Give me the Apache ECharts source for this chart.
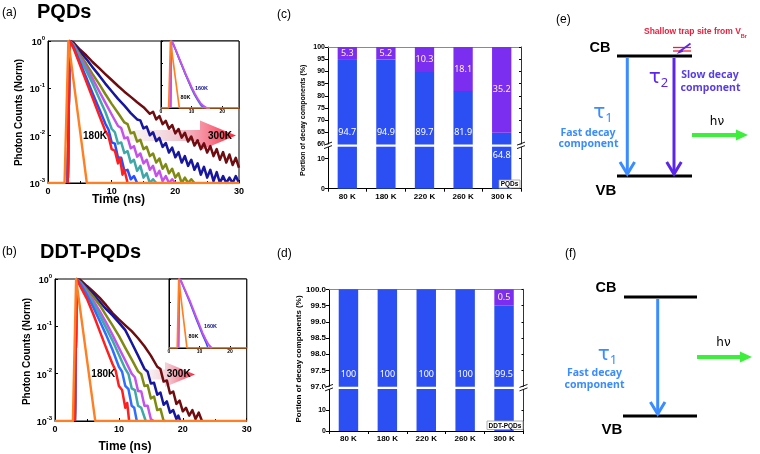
<!DOCTYPE html>
<html><head><meta charset="utf-8">
<script src="https://cdn.jsdelivr.net/npm/echarts@6/dist/echarts.min.js"></script>
<style>html,body{margin:0;padding:0;background:#fff}#c{width:760px;height:454px}</style>
</head><body><div id="c"></div>
<script>
// ================= DATA =================
// (a) PQDs: normalized photon counts vs time (ns), 180K -> 300K
const pqd180 = [[3.1,0.001],[3.4,1],[4,0.71],[5,0.32],[6,0.14],[7,0.063],[8,0.028],[9,0.0126],[9.5,0.0098],[10,0.0052],[10.5,0.0048],[11,0.0026],[11.3,0.0034],[11.7,0.0015],[12,0.0019],[12.5,0.001]];
const pqd200 = [[3.1,0.001],[3.4,1],[4,0.75],[5,0.35],[6,0.17],[7,0.079],[8,0.038],[9,0.018],[9.5,0.0135],[10,0.0072],[10.5,0.0068],[11,0.0034],[11.5,0.0034],[12,0.0018],[12.5,0.0019],[13,0.0012],[13.5,0.0014],[14,0.001]];
const pqd220 = [[3.1,0.001],[3.4,1],[4,0.8],[5,0.42],[6,0.24],[7,0.126],[8,0.063],[9,0.032],[10,0.014],[10.5,0.0118],[11,0.0068],[11.5,0.0072],[12,0.0043],[12.5,0.0047],[13,0.0027],[13.5,0.0031],[14,0.0018],[14.5,0.0023],[15,0.0013],[15.5,0.0016],[16,0.001],[16.5,0.0012],[17,0.001]];
const pqd240 = [[3.1,0.001],[3.4,1],[4,0.82],[5,0.47],[6,0.28],[7,0.16],[8,0.089],[9,0.05],[10,0.028],[11,0.016],[11.5,0.0145],[12,0.0088],[12.5,0.0092],[13,0.0054],[13.5,0.006],[14,0.0036],[14.5,0.0042],[15,0.0026],[15.5,0.0031],[16,0.0019],[16.5,0.0023],[17,0.0014],[17.5,0.0018],[18,0.0011],[18.5,0.0014],[19,0.001],[19.5,0.0012],[20,0.001]];
const pqd260 = [[3.1,0.001],[3.4,1],[4,0.85],[5,0.52],[6,0.33],[7,0.2],[8,0.126],[9,0.076],[10,0.047],[11,0.03],[12,0.019],[12.5,0.0175],[13,0.0112],[13.5,0.0118],[14,0.0075],[14.5,0.0082],[15,0.0052],[15.5,0.0058],[16,0.0037],[16.5,0.0042],[17,0.0027],[17.5,0.0033],[18,0.002],[18.5,0.0025],[19,0.0016],[19.5,0.002],[20,0.0013],[20.5,0.0016],[21,0.001],[21.5,0.0013],[22,0.001],[22.5,0.0012],[23,0.001]];
const pqd280 = [[3.1,0.001],[3.4,1],[4,0.88],[5,0.6],[6,0.42],[7,0.28],[8,0.19],[9,0.126],[10,0.087],[11,0.06],[12,0.043],[13,0.03],[14,0.022],[14.5,0.021],[15,0.0142],[15.5,0.0155],[16,0.0102],[16.5,0.0118],[17,0.0077],[17.5,0.009],[18,0.0058],[18.5,0.007],[19,0.0044],[19.5,0.0056],[20,0.0035],[20.5,0.0045],[21,0.0027],[21.5,0.0037],[22,0.0023],[22.5,0.0031],[23,0.0019],[23.5,0.0026],[24,0.0015],[24.5,0.0022],[25,0.0013],[25.5,0.0019],[26,0.0011],[26.5,0.0017],[27,0.001],[27.5,0.0014],[28,0.001],[28.5,0.0013],[29,0.001],[29.5,0.0014],[30,0.001]];
const pqd300 = [[3.1,0.001],[3.4,1],[4,0.93],[5,0.66],[6,0.5],[7,0.36],[8,0.27],[9,0.2],[10,0.15],[11,0.112],[12,0.085],[13,0.066],[14,0.051],[15,0.04],[16,0.029],[16.5,0.032],[17,0.022],[17.5,0.026],[18,0.0175],[18.5,0.0205],[19,0.014],[19.5,0.0168],[20,0.0112],[20.5,0.0138],[21,0.0091],[21.5,0.0115],[22,0.0075],[22.5,0.0096],[23,0.0062],[23.5,0.008],[24,0.0052],[24.5,0.0069],[25,0.0044],[25.5,0.006],[26,0.0037],[26.5,0.0052],[27,0.0031],[27.5,0.0045],[28,0.0027],[28.5,0.004],[29,0.0024],[29.5,0.0034],[30,0.0021]];
const pqdIRF = [[0,0.001],[2.6,0.001],[3.2,1],[3.5,1],[6.1,0.001],[30,0.001]];
// (a) inset: 80K and 160K
const pqdIn80  = [[3.1,0.001],[3.4,1],[4,0.72],[5,0.33],[6,0.15],[7,0.068],[8,0.031],[9,0.015],[10,0.0072],[11,0.0038],[12,0.0022],[13,0.0013],[13.8,0.001]];
const pqdIn120 = [[3.1,0.001],[3.4,1],[4,0.73],[5,0.34],[6,0.155],[7,0.071],[8,0.033],[9,0.016],[10,0.0078],[11,0.0041],[12,0.0024],[13,0.0015],[14,0.0011],[14.5,0.001]];
const pqdIn160 = [[3.1,0.001],[3.4,1],[4,0.75],[5,0.35],[6,0.16],[7,0.075],[8,0.035],[9,0.017],[10,0.0085],[11,0.0045],[11.5,0.0042],[12,0.0026],[12.5,0.0025],[13,0.0016],[13.5,0.0017],[14,0.0012],[14.5,0.0013],[15,0.001],[15.5,0.0011],[16,0.001]];
const pqdInIRF = [[0,0.001],[2.5,0.001],[3.1,1],[3.5,1],[6,0.001],[25.5,0.001]];

// (b) DDT-PQDs
const ddt180 = [[3.1,0.001],[3.4,1],[4,0.68],[5,0.38],[6,0.18],[7,0.079],[8,0.035],[9,0.016],[9.5,0.0115],[10,0.0055],[10.5,0.0045],[11,0.0019],[11.3,0.0024],[11.6,0.001]];
const ddt200 = [[3.1,0.001],[3.4,1],[4,0.78],[5,0.46],[6,0.25],[7,0.13],[8,0.066],[9,0.032],[10,0.014],[10.5,0.011],[11,0.0055],[11.5,0.0047],[12,0.0021],[12.4,0.0019],[12.8,0.001]];
const ddt220 = [[3.1,0.001],[3.4,1],[4,0.8],[5,0.5],[6,0.3],[7,0.17],[8,0.093],[9,0.05],[10,0.025],[11,0.0126],[11.5,0.0098],[12,0.0049],[12.5,0.0045],[13,0.0021],[13.5,0.0019],[14.2,0.001]];
const ddt240 = [[3.1,0.001],[3.4,1],[4,0.82],[5,0.54],[6,0.35],[7,0.21],[8,0.12],[9,0.066],[10,0.035],[11,0.019],[12,0.01],[12.5,0.0084],[13,0.0043],[13.5,0.0042],[14,0.0021],[14.5,0.0021],[15,0.0011],[15.4,0.001]];
const ddt260 = [[3.1,0.001],[3.4,1],[4,0.86],[5,0.6],[6,0.42],[7,0.28],[8,0.17],[9,0.105],[10,0.063],[11,0.035],[12,0.02],[13,0.0112],[13.5,0.0098],[14,0.0055],[14.5,0.0057],[15,0.003],[15.5,0.0033],[16,0.0017],[16.5,0.0018],[17,0.001],[17.3,0.001]];
const ddt280 = [[3.1,0.001],[3.4,1],[4,0.9],[5,0.66],[6,0.48],[7,0.33],[8,0.23],[9,0.17],[10,0.12],[11,0.083],[12,0.045],[13,0.024],[14,0.0126],[14.5,0.011],[15,0.0062],[15.5,0.0064],[16,0.0036],[16.5,0.004],[17,0.0022],[17.5,0.0026],[18,0.0015],[18.5,0.0017],[19,0.0011],[19.3,0.0013],[19.6,0.001]];
const ddt300 = [[3.1,0.001],[3.4,1],[4,0.95],[5,0.71],[6,0.54],[7,0.4],[8,0.28],[9,0.19],[10,0.14],[11,0.105],[12,0.079],[13,0.056],[14,0.038],[15,0.024],[16,0.014],[16.5,0.0125],[17,0.0068],[17.5,0.0072],[18,0.0038],[18.5,0.0042],[19,0.0023],[19.5,0.0027],[20,0.0016],[20.5,0.0019],[21,0.0013],[21.5,0.0017],[22,0.0011],[22.5,0.0015],[23,0.001]];
const ddtIRF = [[0,0.001],[2.8,0.001],[3.3,1],[3.6,1],[6.3,0.001],[30,0.001]];
// (b) inset
const ddtIn80  = [[3.1,0.001],[3.4,1],[4,0.78],[5,0.37],[6,0.18],[7,0.085],[8,0.038],[9,0.017],[10,0.008],[11,0.0037],[12,0.0019],[12.8,0.001]];
const ddtIn160 = [[3.1,0.001],[3.4,1],[4,0.8],[5,0.4],[6,0.2],[7,0.1],[8,0.045],[9,0.021],[10,0.01],[11,0.0045],[11.5,0.004],[12,0.0024],[12.5,0.0022],[13,0.0014],[13.5,0.0014],[14,0.001]];
const ddtInIRF = [[0,0.001],[2.7,0.001],[3.2,1],[3.5,1],[5.9,0.001],[25.5,0.001]];

// (c),(d) decay component portions (%)
const tempCategories = ['80 K','180 K','220 K','260 K','300 K'];
const pqdFast = [94.7, 94.9, 89.7, 81.9, 64.8];
const pqdSlow = [5.3, 5.2, 10.3, 18.1, 35.2];
const ddtFast = [100, 100, 100, 100, 99.5];
const ddtSlow = [0, 0, 0, 0, 0.5];
// tick label values of the broken portion axes
const pqdUpperTicks = [60, 65, 70, 75, 80, 85, 90, 95, 100];
const pqdLowerTicks = [0, 10];
const ddtUpperTicks = [97.0, 97.5, 98.0, 98.5, 99.0, 99.5, 100.0];
const ddtLowerTicks = [0, 10];

// ================= STYLE =================
const F = 'Liberation Sans';
const C = {maroon:'#6e0c10', navy:'#16169e', olive:'#7f8a12', violet:'#c453ea', teal:'#3fa7a8', blue:'#2650ff', red:'#ff1f1f', orange:'#ff7f24'};
const BLUE_BAR = '#2b4ff2', PURPLE_BAR = '#7b2df0';
const LW = 2.5;

function logLabel(v){ const e = Math.round(Math.log10(v)); return '{b|10}{s|' + e + '}'; }
const logRich = {
  b:{fontSize:9, fontWeight:'bold', fontFamily:F, color:'#000', lineHeight:12, verticalAlign:'bottom'},
  s:{fontSize:6, fontWeight:'bold', fontFamily:F, color:'#000', lineHeight:12, verticalAlign:'top'}
};
function timeAxis(grid, max, fs, inset){
  return {type:'value', gridIndex:grid, min:0, max:max, interval:10, z: inset?6:1,
    axisLine:{show:true, onZero:false, lineStyle:{color:'#000', width:1}},
    axisTick:{show:true, inside:true, length: inset?2:3, lineStyle:{color:'#000'}},
    minorTick:{show:!inset, splitNumber:2, length:2, lineStyle:{color:'#000'}},
    splitLine:{show:false},
    axisLabel:{show:true, fontSize:fs, fontWeight:'bold', fontFamily:F, color:'#000', margin: inset?1:4, showMaxLabel: !inset}};
}
function countAxis(grid, inset){
  return {type:'log', logBase:10, gridIndex:grid, min:0.001, max:1, z: inset?6:1,
    axisLine:{show:true, onZero:false, lineStyle:{color:'#000', width:1}},
    axisTick:{show:true, inside:true, length: inset?2:3, lineStyle:{color:'#000'}},
    splitLine:{show:false},
    axisLabel:{show:!inset, formatter:logLabel, rich:logRich, margin:3}};
}
function line(data, color, xi, yi, w, z){
  return {type:'line', data:data, xAxisIndex:xi, yAxisIndex:yi, symbol:'none', showSymbol:false,
    lineStyle:{color:color, width:w, join:'round'}, itemStyle:{color:color}, z:z, clip:true, animation:false};
}
function catAxis(grid, bottom){
  return {type:'category', gridIndex:grid, data:tempCategories, position: bottom?'bottom':'top',
    axisLine:{show:true, onZero:false, lineStyle:{color: bottom?'#000':'#8a8a8a', width:1}},
    axisTick:{show:bottom, inside:false, length:3, lineStyle:{color:'#000'}},
    splitLine:{show:false},
    axisLabel:{show:bottom, fontSize:8, fontWeight:'bold', fontFamily:F, color:'#000', margin:4}};
}
function valAxis(grid, min, max, interval, dec, right, ticks){
  const ax = {type:'value', gridIndex:grid, min:min, max:max, interval:interval, position: right?'right':'left',
    axisLine:{show:true, onZero:false, lineStyle:{color: right?'#333':'#000', width:1}},
    axisTick:{show:true, inside: !!right, length: right?2:3, lineStyle:{color:'#000'}},
    splitLine:{show:false},
    axisLabel:{show:!right, showMaxLabel:true, showMinLabel:true, hideOverlap:false, fontSize: dec?8:7, fontWeight:'bold', fontFamily:F, color:'#000', margin:3,
      formatter: v => dec ? Number(v).toFixed(1) : String(v)}};
  if (ticks) { ax.axisLabel.customValues = ticks; ax.axisTick.customValues = ticks; }
  return ax;
}
const valueLabelFont = {fontFamily:'Noto Sans', fontSize:9, color:'#fff'};
function upperBlue(xi, yi, data, axisMin, minSpan){
  return {type:'bar', xAxisIndex:xi, yAxisIndex:yi, data:data, stack:'s'+xi, barWidth:'50%', z:2,
    itemStyle:{color:BLUE_BAR}, clip:true,
    label:{show:true, position:'insideBottom', distance:8, ...valueLabelFont,
      formatter: p => (p.value - axisMin) >= minSpan ? String(p.value) : ''}};
}
function upperSlow(xi, yi, data){
  return {type:'bar', xAxisIndex:xi, yAxisIndex:yi, data:data, stack:'s'+xi, barWidth:'50%', z:2,
    itemStyle:{color:PURPLE_BAR}, clip:true,
    label:{show:true, position:'inside', ...valueLabelFont, color:'#fff4d6',
      formatter: p => p.value > 0 ? String(p.value) : ''}};
}
function lowerBlue(xi, yi, data, upperMin, minSpan){
  return {type:'bar', xAxisIndex:xi, yAxisIndex:yi, data:data, barWidth:'50%', z:2,
    itemStyle:{color:BLUE_BAR}, clip:true,
    label:{show:true, position:'insideTop', distance:4, ...valueLabelFont,
      formatter: p => (p.value - upperMin) < minSpan ? String(p.value) : ''}};
}

// ================= GRAPHIC HELPERS (annotations & schematics) =================
function T(x, y, text, size, opt){
  opt = opt || {};
  return {type:'text', x:x, y:y, z:20, rotation: opt.rot || 0,
    style:{text:text, fill: opt.color || '#000', fontSize:size, fontWeight: opt.weight || 'bold',
      fontFamily: opt.family || F, align: opt.align || 'center', verticalAlign:'middle', rich: opt.rich}};
}
function L(x1,y1,x2,y2,color,w,z){ return {type:'line', z: z||20, shape:{x1,y1,x2,y2}, style:{stroke:color, lineWidth:w, lineCap:'butt'}}; }
function PL(pts,color,w){ return {type:'polyline', z:20, shape:{points:pts}, style:{stroke:color, lineWidth:w, fill:null, lineJoin:'miter'}}; }
function PG(pts,fill,z){ return {type:'polygon', z: z||20, shape:{points:pts}, style:{fill:fill}}; }
function bigArrow(x0, xh, xt, yc, hb, hh){
  return {type:'polygon', z:1, shape:{points:[[x0,yc-hb],[xh,yc-hb],[xh,yc-hh],[xt,yc],[xh,yc+hh],[xh,yc+hb],[x0,yc+hb]]},
    style:{fill:new echarts.graphic.LinearGradient(0,0,1,0,[
      {offset:0,color:'rgba(236,226,232,0.2)'},{offset:0.5,color:'rgba(238,190,200,0.8)'},{offset:0.75,color:'rgba(245,120,140,0.9)'},{offset:1,color:'#ff2238'}])}};
}
function tauText(x, y, sub, color){
  return {type:'text', x:x, y:y, z:20, style:{text:'{t|τ}{s|' + sub + '}', align:'center', verticalAlign:'middle',
    rich:{t:{fontSize:20, fontFamily:'DejaVu Sans', fill:color, color:color, lineHeight:22, verticalAlign:'top'},
          s:{fontSize:13, fontFamily:'Noto Sans', fill:color, color:color, lineHeight:22, verticalAlign:'bottom'}}}};
}
function breakMark(x, y){
  return [
    {type:'rect', z:19, shape:{x:x-5, y:y-1.2, width:10, height:2.4}, style:{fill:'#fff'}},
    L(x-4, y-0.5, x+4, y-3.5, '#000', 0.9),
    L(x-4, y+3.0, x+4, y, '#000', 0.9)
  ];
}
function boxLabel(x, y, w, h, text){
  return [
    {type:'rect', z:19, shape:{x:x, y:y, width:w, height:h}, style:{fill:'#fff', stroke:'#999', lineWidth:0.8}},
    T(x + w/2, y + h/2 + 0.5, text, 6.5)
  ];
}
const TAU1 = '#3a8cff', TAU2 = '#5b26ea', TAU2TXT = '#5a3ee4', GREEN = '#3bef3b', TRAP = '#f01c3c';
const DESC = 10.5;

const graphics = [
  // panel titles
  T(2, 12.5, '(a)', 12, {weight:'normal', align:'left'}),
  T(37, 12.5, 'PQDs', 20, {align:'left'}),
  T(2, 252, '(b)', 12, {weight:'normal', align:'left'}),
  T(40, 252.5, 'DDT-PQDs', 20, {align:'left'}),
  T(277, 15, '(c)', 12, {weight:'normal', align:'left'}),
  T(277, 254, '(d)', 12, {weight:'normal', align:'left'}),
  T(556, 20, '(e)', 12, {weight:'normal', align:'left'}),
  T(565, 254, '(f)', 12, {weight:'normal', align:'left'}),
  // axis names
  T(118.5, 200, 'Time (ns)', 12),
  T(19, 112.5, 'Photon Counts (Norm)', 10, {rot:Math.PI/2}),
  T(125, 447, 'Time (ns)', 12),
  T(27.5, 351.5, 'Photon Counts (Norm)', 10, {rot:Math.PI/2}),
  T(303.3, 120.3, 'Portion of decay components (%)', 7, {rot:Math.PI/2}),
  T(298.3, 359, 'Portion of decay components (%)', 8, {rot:Math.PI/2}),
  // temperature arrows
  bigArrow(118, 200, 236, 135.5, 5.5, 15),
  bigArrow(140, 165, 195, 374.5, 5, 12.5),
  T(95, 136, '180K', 10), T(220, 136, '300K', 10),
  T(103.3, 374, '180K', 10), T(178.7, 374, '300K', 10),
  // inset labels
  T(201.5, 88, '160K', 5.5, {color:'#10108a'}), T(185.5, 97.7, '80K', 5.5),
  T(210.5, 326.7, '160K', 5.5, {color:'#10108a'}), T(193.5, 336.7, '80K', 5.5),
  // break marks
  ...breakMark(328, 145.6), ...breakMark(521, 145.6),
  ...breakMark(329, 387.9), ...breakMark(523.5, 387.9),
  ...boxLabel(499, 180, 21, 8, 'PQDs'),
  ...boxLabel(487, 421, 36, 8.5, 'DDT-PQDs'),
  // ===== (e) schematic =====
  {type:'text', x:644, y:33, z:20, style:{text:'{a|Shallow trap site from V}{b|Br}', align:'left', verticalAlign:'middle',
    rich:{a:{fontSize:8.5, fontWeight:'bold', fontFamily:F, fill:TRAP, color:TRAP, lineHeight:12, verticalAlign:'top'},
          b:{fontSize:5.5, fontWeight:'bold', fontFamily:F, fill:TRAP, color:TRAP, lineHeight:12, verticalAlign:'bottom'}}}},
  T(600, 48, 'CB', 14.5),
  L(617, 56, 692, 56, '#000', 3),
  L(617, 176, 692, 176, '#000', 3),
  T(606, 191, 'VB', 15),
  L(673, 47.5, 691, 47.5, TRAP, 1.3), L(673, 51, 691, 51, TRAP, 1.3),
  L(690.5, 43.5, 679, 52, TAU2, 1.8),
  PG([[676.5, 54], [681.5, 48.8], [683.2, 51.8]], TAU2),
  L(627.3, 58, 627.3, 173, TAU1, 3), PL([[620,162],[627.3,174],[634.6,162]], TAU1, 3),
  L(674, 58, 674, 173, TAU2, 3), PL([[666.7,162],[674,174],[681.3,162]], TAU2, 3),
  tauText(603, 114, '1', TAU1),
  T(588, 132.7, 'Fast decay', DESC, {color:TAU1, family:'Noto Sans'}),
  T(588.5, 144.5, 'component', DESC, {color:TAU1, family:'Noto Sans'}),
  tauText(658.5, 79, '2', TAU2),
  T(710, 75, 'Slow decay', DESC, {color:TAU2TXT, family:'Noto Sans'}),
  T(710.5, 88, 'component', DESC, {color:TAU2TXT, family:'Noto Sans'}),
  T(717, 122, 'hν', 12, {weight:'normal', family:'DejaVu Sans'}),
  L(692, 135, 738, 135, GREEN, 4), PG([[736,129.5],[748,135],[736,140.5]], GREEN),
  // ===== (f) schematic =====
  T(606, 288, 'CB', 14.5),
  L(624, 297, 697, 297, '#000', 3),
  L(623, 416, 697, 416, '#000', 3),
  T(612, 430, 'VB', 15),
  L(657.7, 299, 657.7, 413, TAU1, 3), PL([[650.4,402],[657.7,414],[665,402]], TAU1, 3),
  tauText(607.5, 356, '1', TAU1),
  T(594.5, 373, 'Fast decay', DESC, {color:TAU1, family:'Noto Sans'}),
  T(594.5, 385.5, 'component', DESC, {color:TAU1, family:'Noto Sans'}),
  T(723.5, 343, 'hν', 12, {weight:'normal', family:'DejaVu Sans'}),
  L(697, 357, 742, 357, GREEN, 4), PG([[740,351.5],[752,357],[740,362.5]], GREEN)
];

// ================= CHART =================
const gridBase = {outerBoundsMode:'none', containLabel:false};
const option = {
  animation:false,
  backgroundColor:'#fff',
  grid:[
    {...gridBase, left:48, top:41, width:191, height:142, show:true, borderColor:'#000', borderWidth:1, backgroundColor:'transparent', z:0},
    {...gridBase, left:161, top:41, width:78, height:67, show:true, borderColor:'#000', borderWidth:1, backgroundColor:'#fff', z:5},
    {...gridBase, left:55, top:279, width:191.7, height:142, show:true, borderColor:'#000', borderWidth:1, backgroundColor:'transparent', z:0},
    {...gridBase, left:169, top:279, width:77.7, height:69, show:true, borderColor:'#000', borderWidth:1, backgroundColor:'#fff', z:5},
    {...gridBase, left:328, top:47, width:193, height:97.5},
    {...gridBase, left:328, top:146.7, width:193, height:42},
    {...gridBase, left:329, top:289.3, width:194.5, height:97.4},
    {...gridBase, left:329, top:389, width:194.5, height:42}
  ],
  xAxis:[
    timeAxis(0, 30, 9, false),
    timeAxis(1, 25.5, 5, true),
    timeAxis(2, 30, 9, false),
    timeAxis(3, 25.5, 5, true),
    catAxis(4, false), catAxis(5, true), catAxis(6, false), catAxis(7, true)
  ],
  yAxis:[
    countAxis(0, false), countAxis(1, true), countAxis(2, false), countAxis(3, true),
    valAxis(4, 60, 100, 5, false, false, pqdUpperTicks),
    valAxis(5, 0, 14, 10, false, false, pqdLowerTicks),
    valAxis(6, 97, 100, 0.5, true, false, ddtUpperTicks),
    valAxis(7, 0, 20, 10, false, false, ddtLowerTicks),
    valAxis(4, 60, 100, 5, false, true, pqdUpperTicks),
    valAxis(5, 0, 14, 10, false, true, pqdLowerTicks),
    valAxis(6, 97, 100, 0.5, true, true, ddtUpperTicks),
    valAxis(7, 0, 20, 10, false, true, ddtLowerTicks)
  ],
  series:[
    // (a)
    line(pqd300, C.maroon, 0, 0, LW, 2),
    line(pqd280, C.navy, 0, 0, LW, 2),
    line(pqd260, C.olive, 0, 0, LW, 2),
    line(pqd240, C.violet, 0, 0, LW, 2),
    line(pqd220, C.teal, 0, 0, LW, 2),
    line(pqd200, C.blue, 0, 0, LW, 2),
    line(pqd180, C.red, 0, 0, LW, 2),
    line(pqdIRF, C.orange, 0, 0, 2.4, 3),
    // (a) inset
    line(pqdIn80, C.teal, 1, 1, 1.6, 6),
    line(pqdIn120, C.blue, 1, 1, 1.6, 6),
    line(pqdIn160, C.violet, 1, 1, 2, 6),
    line(pqdInIRF, C.orange, 1, 1, 1.7, 7),
    // (b)
    line(ddt300, C.maroon, 2, 2, LW, 2),
    line(ddt280, C.navy, 2, 2, LW, 2),
    line(ddt260, C.olive, 2, 2, LW, 2),
    line(ddt240, C.violet, 2, 2, LW, 2),
    line(ddt220, C.teal, 2, 2, LW, 2),
    line(ddt200, '#2f6fff', 2, 2, LW, 2),
    line(ddt180, C.red, 2, 2, LW, 2),
    line(ddtIRF, C.orange, 2, 2, 2.4, 3),
    // (b) inset
    line(ddtIn80, C.blue, 3, 3, 1.6, 6),
    line(ddtIn160, C.violet, 3, 3, 2, 6),
    line(ddtInIRF, C.orange, 3, 3, 1.7, 7),
    // (c)
    upperBlue(4, 4, pqdFast, 60, 10),
    upperSlow(4, 4, pqdSlow),
    lowerBlue(5, 5, pqdFast, 60, 10),
    // (d)
    upperBlue(6, 6, ddtFast, 97, 0),
    upperSlow(6, 6, ddtSlow),
    lowerBlue(7, 7, ddtFast, 97, -1)
  ],
  graphic:{elements:graphics}
};
const chart = echarts.init(document.getElementById('c'), null, {renderer:'canvas'});
chart.setOption(option);
</script>
</body></html>
